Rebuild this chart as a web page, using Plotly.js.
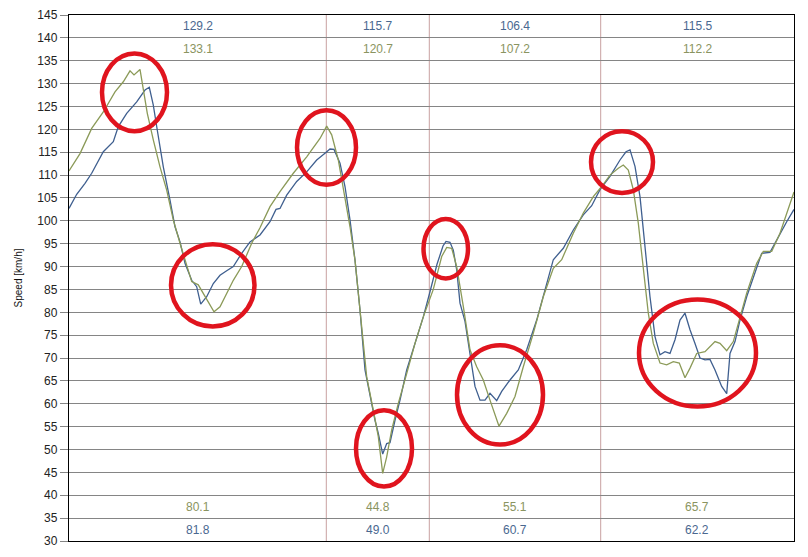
<!DOCTYPE html>
<html>
<head>
<meta charset="utf-8">
<script src="https://cdn.plot.ly/plotly-3.0.1.min.js"></script>
<style>html,body{margin:0;padding:0;background:#fff;}#chart{width:808px;height:557px;}</style>
</head>
<body>
<div id="chart"></div>
<script>
// Distance along the lap (arbitrary units) and speed [km/h]
const blueDist = [0,7.7,16,22.7,34.3,44.3,49.3,57.7,67.7,76,80.3,84.3,88.3,94.3,101,106,111,116,122.7,127.7,131.7,137.7,144.3,151,157.7,164.3,172.7,181,191,201,207,211,217.7,227.7,237.7,247.7,256,261,265,271,276,281,286,291,296,301,306,309.3,313.7,317.7,321,326,331,337.7,346,354.3,361,368,374,377,381,384.3,387.7,391,396,401,406,411,416,421,427.7,432.7,441,449.3,457.7,467.7,476,484.3,494.3,504.3,514.3,522.7,531,541,551,557,561,566,571,576,581,586,591,596,601,606,611,616,621,626,631,636,641,646,652.7,657.7,661,666,671,677.7,684.3,692.7,701,709.3,717.7,725];
const blueSpeed = [102.7,105.8,108.2,110.4,115.1,117.3,120.6,123.5,126,128.6,129.2,125.3,119.8,111.8,104.5,98.7,95.4,90.7,87,85.6,81.8,83.4,86.3,88.1,89.1,90,92.9,95.4,96.9,99.8,102.5,102.7,105.6,108.6,110.7,113.3,114.8,115.7,115.6,112.6,107.5,100.2,91.4,80.5,67.4,61.5,56.4,53.5,49.0,51.3,51.5,56.4,60.8,67.4,73.2,79,84.5,90.5,94.5,95.5,95.3,93.6,89.3,82,78,71,63.8,60.8,60.8,62.3,60.7,62.7,65.2,67.4,71.8,78.3,84.9,91.5,94,98,101.3,103.3,106.8,109.7,113.3,115.1,115.5,111.9,105.3,93.6,83.4,74.7,70.7,71.4,71,74,78.3,79.8,76.2,73.2,70,69.6,69.7,67.4,63.8,62.2,71,73.6,78.3,83.4,87.8,92.9,93.1,96.6,99.8,102.5];

const greenDist = [0,11,22.7,34.3,46,54.3,61,65,71,74.3,78.3,84.3,91,97.7,104.3,111,117,122.7,129.3,136,145,151,157.7,164.3,172.7,182.7,191,201,211,224.3,237.7,251,257.7,262.7,269.3,276,281,286,291,297.7,304.3,309.3,313.7,317.7,322.7,329.3,337.7,346,354.3,364.3,372.7,377.7,382.7,387.7,394.3,401,407.7,414.3,421,430,437.7,446,454.3,464.3,474.3,484.3,492.7,504.3,514.3,524.3,532.7,541,549.3,554.3,559.3,564.3,569.3,574.3,579.3,584.3,591,597.7,604.3,610.3,616,621,627.7,636,646,651,657.7,664.3,671,677.7,687.7,694.3,702.7,711,725];
const greenSpeed = [110.9,114.7,120.2,123.8,128.2,130.4,132.8,131.9,133.1,128.6,123.5,117.7,111.8,106.7,100.2,95.1,90.7,86.7,86,83.4,80.1,81.2,84.1,87,90,95.1,98.5,103.1,106.4,110.4,114,118,120.7,118.8,113.3,105.3,98.7,91.4,80.5,65.9,58.6,52.8,44.8,48.4,54.3,60.1,66.6,73.2,79,85,92.2,94.2,94,90,81.3,71.8,68.1,65.2,60.8,55.1,57.9,61.6,68.1,75.4,83.4,89.6,91.5,97.3,101.7,105.3,107.5,110,111.5,112.2,111.1,106.8,99.5,89.3,79.8,73.2,68.9,68.5,69.2,68.9,65.7,67.8,71,71.4,73.6,73.2,71.6,73.6,79.1,84.2,90.7,93.3,93.3,97.3,106.3];

// Section dividers and section statistics
const sectionBounds = [0, 257.3, 360.3, 531.7, 725];
const blueMax  = ["129.2","115.7","106.4","115.5"];
const greenMax = ["133.1","120.7","107.2","112.2"];
const greenMin = ["80.1","44.8","55.1","65.7"];
const blueMin  = ["81.8","49.0","60.7","62.2"];

// Highlight ellipses [x0, x1, y0, y1]
const ellipses = [
  [33,98,119.6,136.6],
  [102,185.5,76.9,94.9],
  [228,287,107.9,124.2],
  [287,343,41.9,58.6],
  [354.5,399,87.4,100.4],
  [388,474,51.1,72.8],
  [522,584,106.1,119.6],
  [570,687,59.4,82.8]
];

const blueColor = "#3f5f8f";
const greenColor = "#8b9a58";

const traces = [
  {x: blueDist, y: blueSpeed, type: "scatter", mode: "lines", line: {color: blueColor, width: 1.3}, hoverinfo: "skip"},
  {x: greenDist, y: greenSpeed, type: "scatter", mode: "lines", line: {color: greenColor, width: 1.3}, hoverinfo: "skip"}
];

const shapes = [];
for (let i = 1; i < sectionBounds.length - 1; i++) {
  shapes.push({type: "line", xref: "x", yref: "paper", x0: sectionBounds[i], x1: sectionBounds[i], y0: 0, y1: 1,
    line: {color: "#c8a0a0", width: 1}, layer: "below"});
}
ellipses.forEach(e => shapes.push({type: "circle", xref: "x", yref: "y", x0: e[0], x1: e[1], y0: e[2], y1: e[3],
  line: {color: "#e0141e", width: 4.5}, layer: "above"}));

const annotations = [];
const rows = [[blueMax, 142.5, "#4a6890"], [greenMax, 137.5, "#8a9460"], [greenMin, 37.5, "#8a9460"], [blueMin, 32.5, "#4a6890"]];
for (let i = 0; i < 4; i++) {
  const cx = (sectionBounds[i] + sectionBounds[i+1]) / 2;
  rows.forEach(r => annotations.push({x: cx, y: r[1], xref: "x", yref: "y", text: r[0][i], showarrow: false,
    font: {family: "Arial, Liberation Sans, sans-serif", size: 12, color: r[2]}}));
}

const layout = {
  width: 808, height: 557,
  margin: {l: 69, r: 14, t: 15, b: 16, pad: 0},
  paper_bgcolor: "#fff", plot_bgcolor: "#fff",
  showlegend: false,
  xaxis: {range: [0, 725], showgrid: false, zeroline: false, showticklabels: false, ticks: "",
    showline: true, linecolor: "#000", linewidth: 1.2, mirror: true},
  yaxis: {range: [30, 145], dtick: 5, tick0: 30, showgrid: true, gridcolor: "#858585", gridwidth: 1,
    zeroline: false, ticks: "outside", ticklen: 8, tickcolor: "#858585",
    showline: true, linecolor: "#000", linewidth: 1.2, mirror: true,
    tickfont: {family: "Arial, Liberation Sans, sans-serif", size: 12, color: "#222"},
    title: {text: "Speed [km/h]", standoff: 12, font: {family: "Arial, Liberation Sans, sans-serif", size: 10, color: "#111"}},
    automargin: false},
  shapes: shapes,
  annotations: annotations
};

Plotly.newPlot("chart", traces, layout, {displayModeBar: false, staticPlot: true});
</script>
</body>
</html>
